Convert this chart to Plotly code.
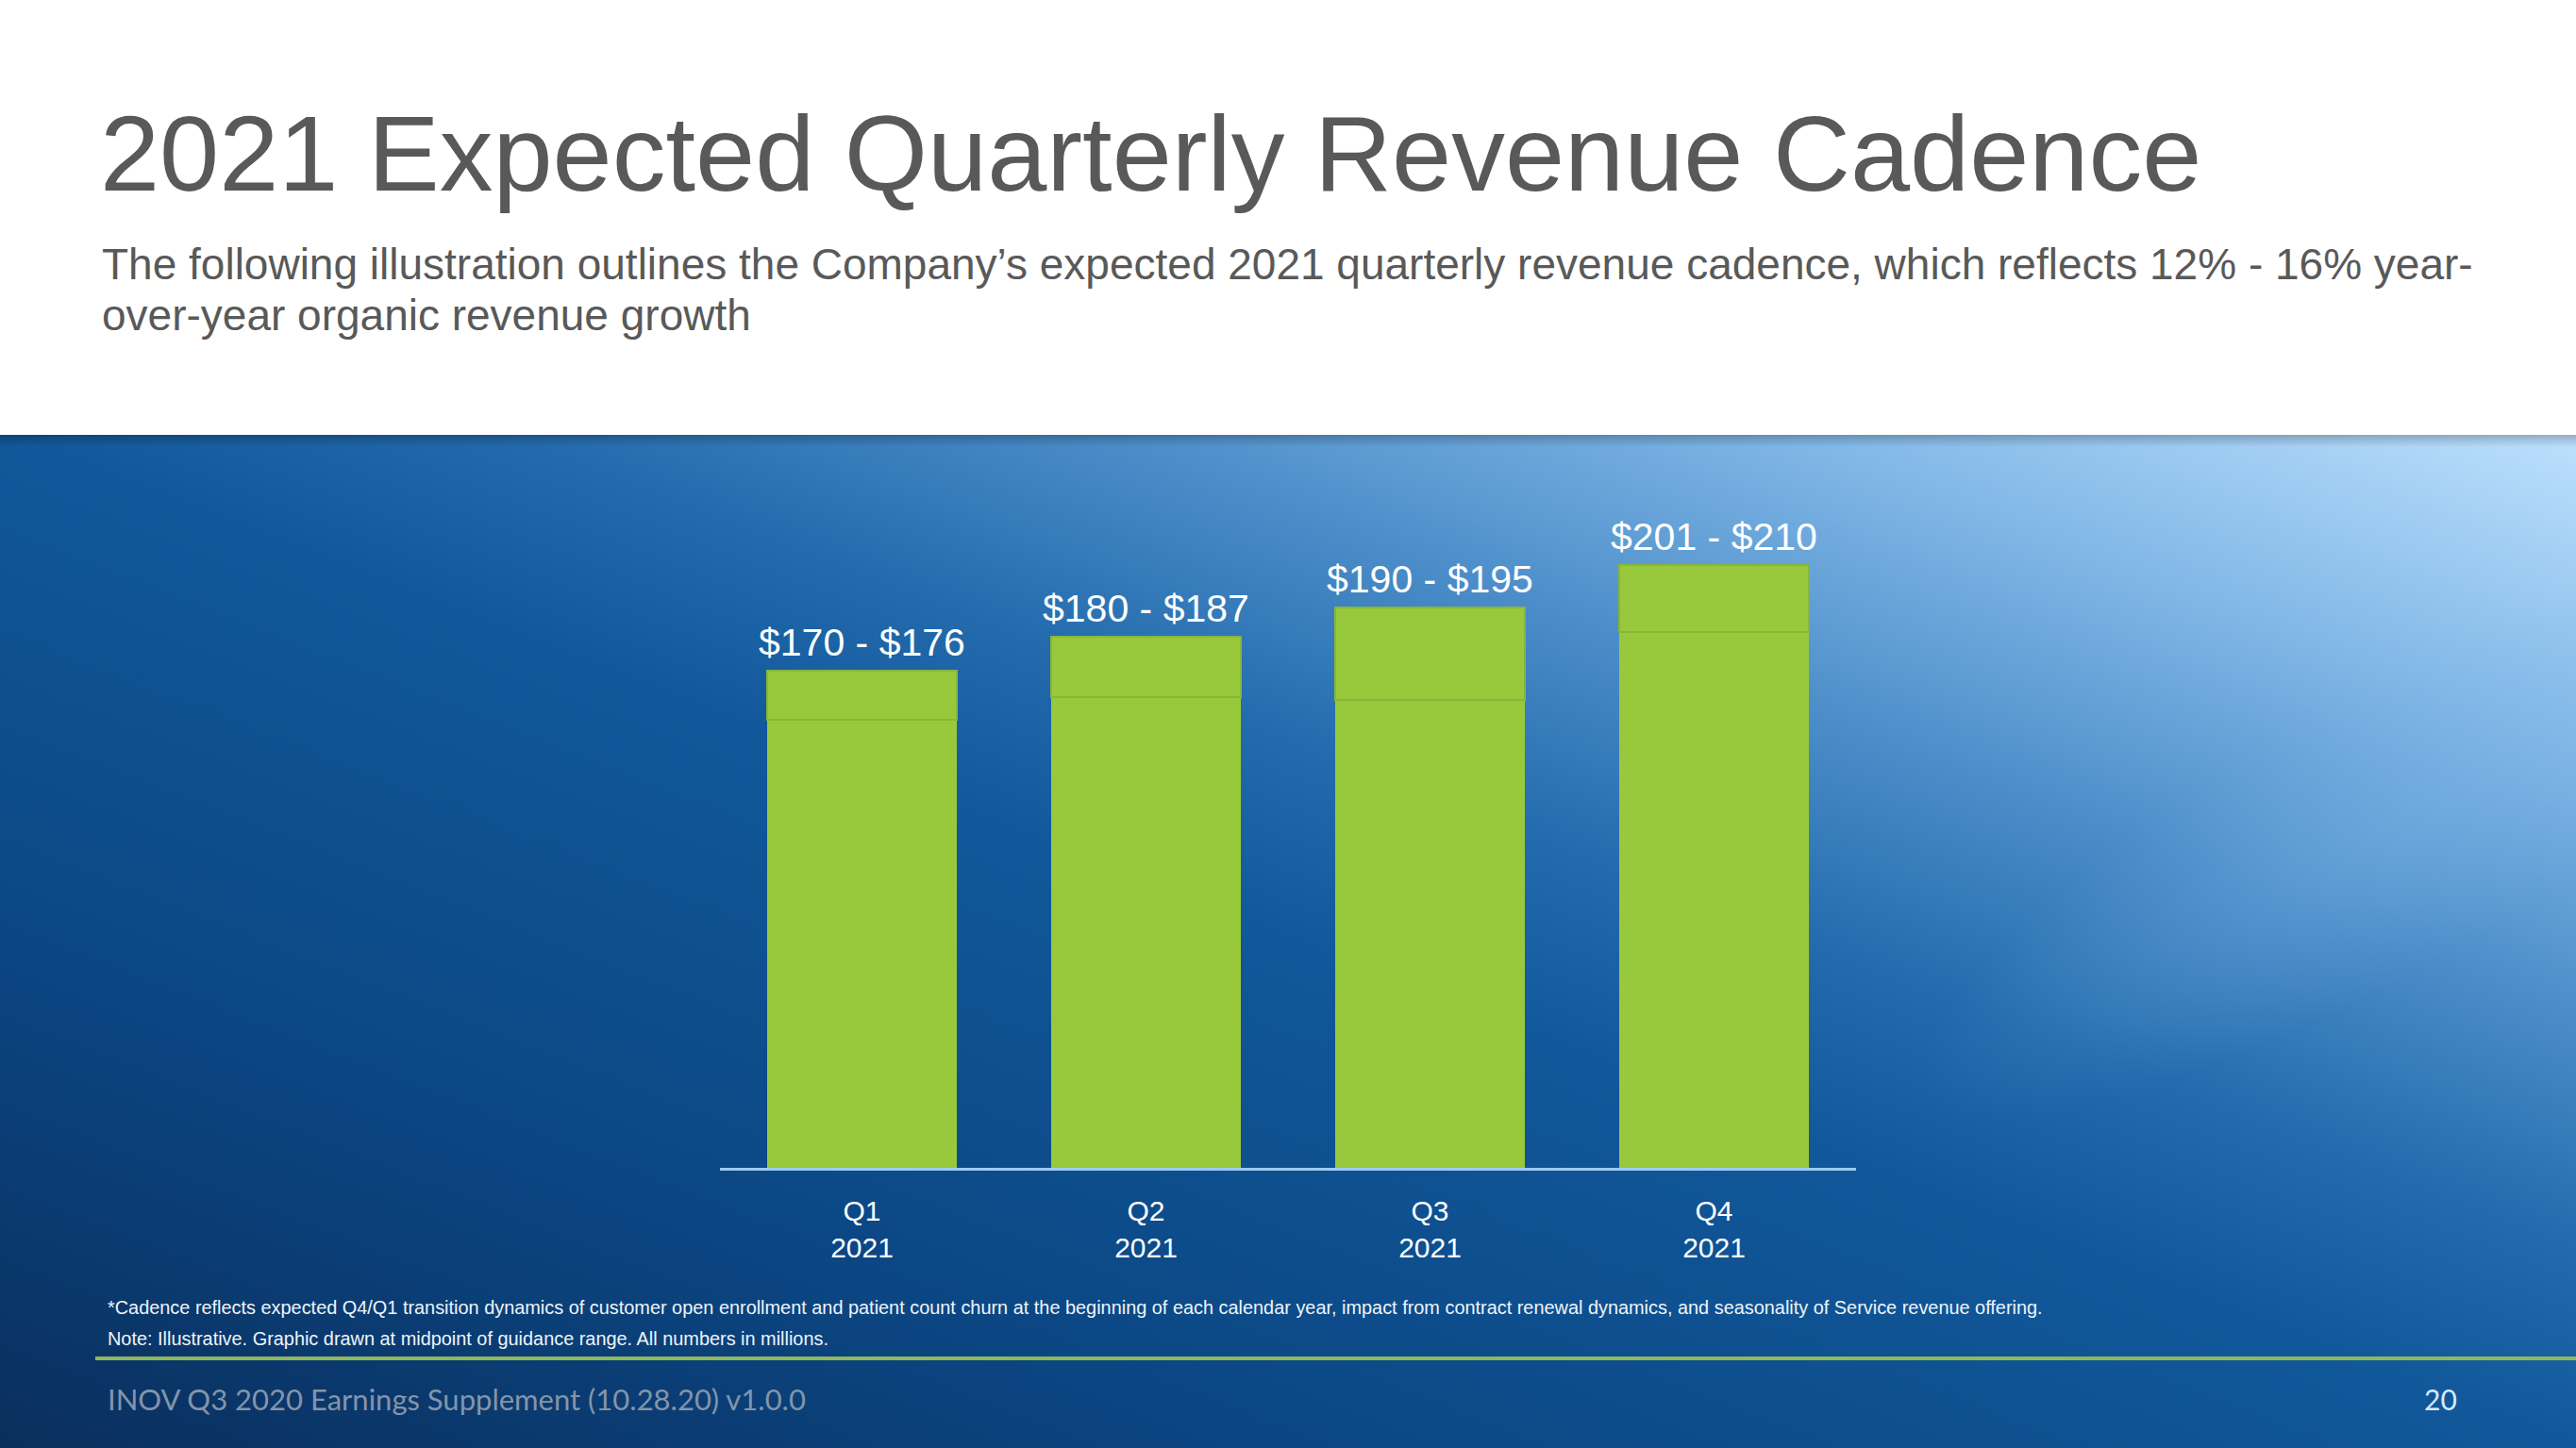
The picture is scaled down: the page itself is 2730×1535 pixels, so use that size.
import base64
import plotly.graph_objects as go

# ---- data ----
quarters = ["Q1<br>2021", "Q2<br>2021", "Q3<br>2021", "Q4<br>2021"]
range_labels = ["$170 - $176", "$180 - $187", "$190 - $195", "$201 - $210"]
midpoints = [173.0, 183.5, 192.5, 205.5]      # drawn at midpoint of guidance range
inner_level = [158.0, 165.0, 164.0, 185.0]    # faint inner division visible in each bar
upper_part = [m - b for m, b in zip(midpoints, inner_level)]

W, H = 2730, 1535
PLOT_X0, PLOT_X1 = 763, 1967      # plot area in pixel coords
PLOT_Y0, PLOT_Y1 = 515, 1238
PW, PH = PLOT_X1 - PLOT_X0, PLOT_Y1 - PLOT_Y0
L, R = PLOT_X0, W - PLOT_X1
T, B = PLOT_Y0, H - PLOT_Y1


def px(x):
    return (x - PLOT_X0) / PW


def py(y):
    return (PLOT_Y1 - y) / PH


GREEN = "#98c93c"
FONT = "Liberation Sans, Arial"

fig = go.Figure()
fig.add_trace(go.Bar(
    x=quarters, y=inner_level, marker=dict(color=GREEN, line=dict(width=0)),
    hoverinfo="skip", showlegend=False,
))
fig.add_trace(go.Bar(
    x=quarters, y=upper_part, marker=dict(color=GREEN, line=dict(color="#88b63a", width=2)),
    hoverinfo="skip", showlegend=False,
))

# ---- background panel (gradient) ----
svg = """<svg xmlns="http://www.w3.org/2000/svg" width="2730" height="1074" viewBox="0 0 2730 1074" preserveAspectRatio="none">
<defs>
<linearGradient id="g1" x1="0" y1="1" x2="1" y2="0">
 <stop offset="0" stop-color="#0a2f5d"/>
 <stop offset="0.25" stop-color="#0b4683"/>
 <stop offset="0.5" stop-color="#11589a"/>
 <stop offset="0.6" stop-color="#236bad"/>
 <stop offset="0.71" stop-color="#4a8cc8"/>
 <stop offset="0.85" stop-color="#82b8e7"/>
 <stop offset="1" stop-color="#bde0fd"/>
</linearGradient>
<radialGradient id="g6" gradientUnits="userSpaceOnUse" cx="0" cy="0" r="1" gradientTransform="translate(2560 400) rotate(-30) scale(600 150)">
 <stop offset="0" stop-color="#7db6e8" stop-opacity="0.3"/>
 <stop offset="1" stop-color="#7db6e8" stop-opacity="0"/>
</radialGradient>
<linearGradient id="g5" x1="0" y1="0" x2="0" y2="1">
 <stop offset="0" stop-color="#000000" stop-opacity="0.22"/>
 <stop offset="0.012" stop-color="#000000" stop-opacity="0"/>
</linearGradient>
</defs>
<rect x="0" y="0" width="2730" height="1074" fill="url(#g1)"/>
<rect x="0" y="0" width="2730" height="1074" fill="url(#g6)"/>
<rect x="0" y="0" width="2730" height="1074" fill="url(#g5)"/>
</svg>"""
src = "data:image/svg+xml;base64," + base64.b64encode(svg.encode()).decode()
panel_top = 461
fig.add_layout_image(dict(
    source=src, xref="paper", yref="paper", x=px(0), y=py(panel_top),
    sizex=W / PW, sizey=(H - panel_top) / PH, sizing="stretch",
    xanchor="left", yanchor="top", layer="below",
))

# separator line above footer
fig.add_shape(type="line", xref="paper", yref="paper",
              x0=px(101), x1=px(W), y0=py(1440), y1=py(1440),
              line=dict(color="#8fb85c", width=4))

ann = []
# value-range labels above each bar (placed through the data axes)
for q, m, lab in zip(quarters, midpoints, range_labels):
    ann.append(dict(text=lab, x=q, y=m, xref="x", yref="y", xanchor="center", yanchor="bottom",
                    yshift=5, showarrow=False,
                    font=dict(family=FONT, size=41, color="white")))


def text_at(text, x, y, size, color, family=FONT, xanchor="left"):
    ann.append(dict(text=text, x=px(x), y=py(y), xref="paper", yref="paper",
                    xanchor=xanchor, yanchor="middle", showarrow=False,
                    font=dict(family=family, size=size, color=color)))


text_at("2021 Expected Quarterly Revenue Cadence", 104, 163, 113.5, "#595959")
text_at("The following illustration outlines the Company\u2019s expected 2021 quarterly revenue cadence, which reflects 12% - 16% year-",
        106, 280, 46, "#595959")
text_at("over-year organic revenue growth", 106, 334, 46, "#595959")
text_at("*Cadence reflects expected Q4/Q1 transition dynamics of customer open enrollment and patient count churn at the beginning of each calendar year, impact from contract renewal dynamics, and seasonality of Service revenue offering.",
        112, 1386, 19.9, "#eef4fa")
text_at("Note: Illustrative. Graphic drawn at midpoint of guidance range. All numbers in millions.",
        112, 1419, 19.9, "#eef4fa")
text_at("INOV Q3 2020 Earnings Supplement (10.28.20) v1.0.0", 112, 1483, 31, "#8395ab",
        family="Lato, Carlito, sans-serif")
text_at("20", 2586, 1483, 30, "#d5eafc", family="Lato, Carlito, sans-serif", xanchor="center")

fig.update_layout(
    width=W, height=H, autosize=False,
    margin=dict(l=L, r=R, t=T, b=B, pad=0),
    paper_bgcolor="white", plot_bgcolor="rgba(0,0,0,0)",
    barmode="stack", bargap=0.335,
    annotations=ann,
    xaxis=dict(range=[-0.5, 3.5], showgrid=False, zeroline=False, showline=True,
               linecolor="#9ccbf2", linewidth=3,
               ticks="", ticklabelstandoff=17,
               tickfont=dict(family=FONT, size=30, color="white"),
               fixedrange=True),
    yaxis=dict(range=[20, 230], showgrid=False, zeroline=False, showline=False,
               showticklabels=False, ticks="", fixedrange=True),
)

fig.write_html("out.html", config={"displayModeBar": False},
               post_script="document.body.style.margin='0';document.body.style.overflow='hidden';")
